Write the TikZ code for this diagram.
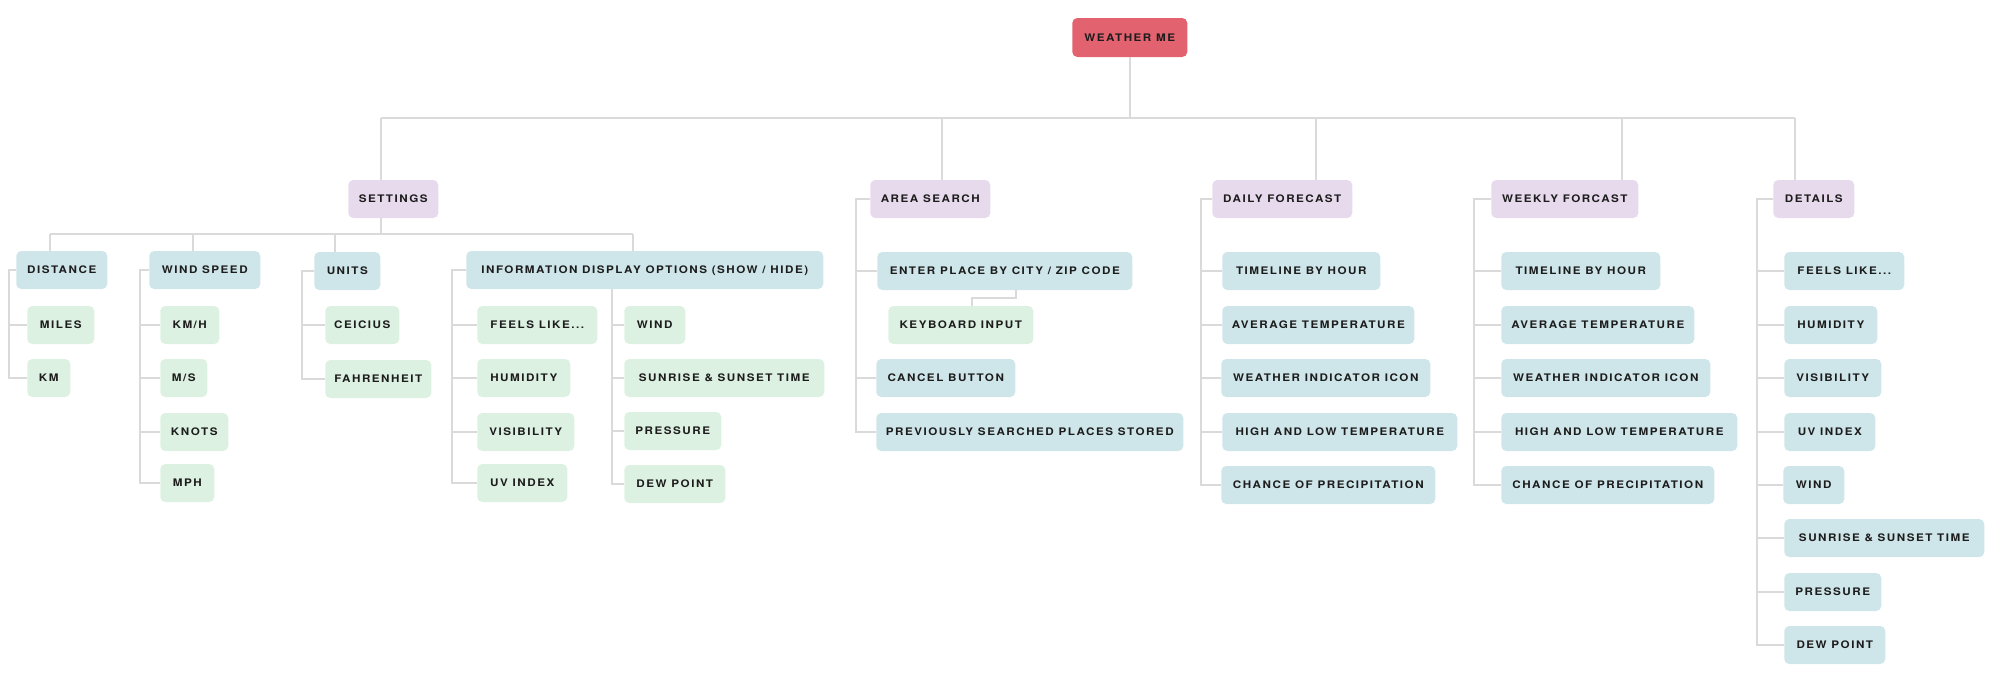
\documentclass[tikz,border=0pt]{standalone}
\usepackage{fontspec}
\setmainfont{TeX Gyre Heros}[FakeStretch=1.12, LetterSpace=14.5]
\usetikzlibrary{calc}

\definecolor{rootred}{HTML}{E2636F}
\definecolor{catlilac}{HTML}{E8DAED}
\definecolor{itemblue}{HTML}{CEE5E9}
\definecolor{leafgreen}{HTML}{DCF1E1}
\definecolor{linkgray}{HTML}{DADADA}
\definecolor{inkdark}{HTML}{1C1C1C}

\tikzset{
  box/.style={anchor=west, rounded corners=3.75pt, minimum height=28.5pt,
    inner sep=0pt, text=inkdark, text height=5.6pt, text depth=0pt,
    font=\bfseries\fontsize{7.8}{9}\selectfont},
  bw/.style={minimum width={#1*0.75pt}},
  rootbox/.style={box, fill=rootred, minimum height=29.25pt},
  catbox/.style={box, fill=catlilac},
  itembox/.style={box, fill=itemblue},
  leafbox/.style={box, fill=leafgreen},
  link/.style={draw=linkgray, line width=1.1pt},
}

\begin{document}
\begin{tikzpicture}[x=0.75pt, y=-0.75pt]
\useasboundingbox (0,0) rectangle (2000,696);

% root and first level
\node[rootbox, bw=115] (root) at (1072,37.5) {WEATHER ME};
\node[catbox, bw=90]  (settings) at (348,199)  {SETTINGS};
\node[catbox, bw=120] (area)     at (870,199)  {AREA SEARCH};
\node[catbox, bw=140] (daily)    at (1212,199) {DAILY FORECAST};
\node[catbox, bw=147] (weekly)   at (1491,199) {WEEKLY FORCAST};
\node[catbox, bw=81]  (details)  at (1773,199) {DETAILS};

% settings branch
\node[itembox, bw=91]  (dist)  at (16,270)  {DISTANCE};
\node[leafbox, bw=67]  (miles) at (27,325)  {MILES};
\node[leafbox, bw=43]  (km)    at (27,378)  {KM};

\node[itembox, bw=111] (wspd)  at (149,270) {WIND SPEED};
\node[leafbox, bw=59]  (kmh)   at (160,325) {KM/H};
\node[leafbox, bw=47]  (ms)    at (160,378) {M/S};
\node[leafbox, bw=68]  (knots) at (160,432) {KNOTS};
\node[leafbox, bw=54]  (mph)   at (160,483) {MPH};

\node[itembox, bw=66]  (units) at (314,271) {UNITS};
\node[leafbox, bw=74]  (cel)   at (325,325) {CEICIUS};
\node[leafbox, bw=106] (fahr)  at (325,379) {FAHRENHEIT};

\node[itembox, bw=357] (info)    at (466,270) {INFORMATION DISPLAY OPTIONS (SHOW / HIDE)};
\node[leafbox, bw=120] (ifeels)  at (477,325) {FEELS LIKE...};
\node[leafbox, bw=93]  (ihum)    at (477,378) {HUMIDITY};
\node[leafbox, bw=97]  (ivis)    at (477,432) {VISIBILITY};
\node[leafbox, bw=90]  (iuv)     at (477,483) {UV INDEX};
\node[leafbox, bw=61]  (iwind)   at (624,325) {WIND};
\node[leafbox, bw=200] (isun)    at (624,378) {SUNRISE \& SUNSET TIME};
\node[leafbox, bw=97]  (ipres)   at (624,431) {PRESSURE};
\node[leafbox, bw=101] (idew)    at (624,484) {DEW POINT};

% area search branch
\node[itembox, bw=255] (enter)  at (877,271) {ENTER PLACE BY CITY / ZIP CODE};
\node[leafbox, bw=145] (keyb)   at (888,325) {KEYBOARD INPUT};
\node[itembox, bw=139] (cancel) at (876,378) {CANCEL BUTTON};
\node[itembox, bw=307] (prev)   at (876,432) {PREVIOUSLY SEARCHED PLACES STORED};

% daily forecast branch
\node[itembox, bw=158] (d1) at (1222,271) {TIMELINE BY HOUR};
\node[itembox, bw=192] (d2) at (1222,325) {AVERAGE TEMPERATURE};
\node[itembox, bw=209] (d3) at (1221,378) {WEATHER INDICATOR ICON};
\node[itembox, bw=235] (d4) at (1222,432) {HIGH AND LOW TEMPERATURE};
\node[itembox, bw=214] (d5) at (1221,485) {CHANCE OF PRECIPITATION};

% weekly forecast branch
\node[itembox, bw=159] (w1) at (1501,271) {TIMELINE BY HOUR};
\node[itembox, bw=193] (w2) at (1501,325) {AVERAGE TEMPERATURE};
\node[itembox, bw=209] (w3) at (1501,378) {WEATHER INDICATOR ICON};
\node[itembox, bw=236] (w4) at (1501,432) {HIGH AND LOW TEMPERATURE};
\node[itembox, bw=213] (w5) at (1501,485) {CHANCE OF PRECIPITATION};

% details branch
\node[itembox, bw=120] (t1) at (1784,271) {FEELS LIKE...};
\node[itembox, bw=93]  (t2) at (1784,325) {HUMIDITY};
\node[itembox, bw=97]  (t3) at (1784,378) {VISIBILITY};
\node[itembox, bw=91]  (t4) at (1784,432) {UV INDEX};
\node[itembox, bw=61]  (t5) at (1783,485) {WIND};
\node[itembox, bw=200] (t6) at (1784,538) {SUNRISE \& SUNSET TIME};
\node[itembox, bw=97]  (t7) at (1784,592) {PRESSURE};
\node[itembox, bw=101] (t8) at (1784,645) {DEW POINT};

% bus and spine positions
\coordinate (busS) at (381,118);
\coordinate (busA) at (942,118);
\coordinate (busD) at (1316,118);
\coordinate (busW) at (1622,118);
\coordinate (busT) at (1795,118);
\coordinate (sbus) at (381,234);
\coordinate (sbDist) at (50,234);
\coordinate (sbWind) at (193,234);
\coordinate (sbUnits) at (335,234);
\coordinate (sbInfo) at (633,234);
\coordinate (spDist) at (9,0);
\coordinate (spWind) at (140,0);
\coordinate (spUnits) at (302,0);
\coordinate (spInfoL) at (452,0);
\coordinate (spInfoR) at (612,0);
\coordinate (spArea) at (856,0);
\coordinate (spDaily) at (1201,0);
\coordinate (spWeekly) at (1474,0);
\coordinate (spDetails) at (1757,0);
\coordinate (kbA) at (1016,298);
\coordinate (kbB) at (972,298);

% root to first level
\draw[link] (root.south) -- (root.south |- busS);
\draw[link] (busS) -- (busT);
\foreach \b/\n in {busS/settings, busA/area, busD/daily, busW/weekly, busT/details}
  \draw[link] (\b) -- (\b |- \n.north);

% settings to its groups
\draw[link] (settings.south -| sbus) -- (sbus);
\draw[link] (sbDist) -- (sbInfo);
\foreach \b/\n in {sbDist/dist, sbWind/wspd, sbUnits/units, sbInfo/info}
  \draw[link] (\b) -- (\b |- \n.north);

% side spines from parents to children
\foreach \p/\s/\kids in {
    dist/spDist/{miles,km},
    wspd/spWind/{kmh,ms,knots,mph},
    units/spUnits/{cel,fahr},
    info/spInfoL/{ifeels,ihum,ivis,iuv},
    area/spArea/{enter,cancel,prev},
    daily/spDaily/{d1,d2,d3,d4,d5},
    weekly/spWeekly/{w1,w2,w3,w4,w5},
    details/spDetails/{t1,t2,t3,t4,t5,t6,t7,t8}}
  \foreach \c in \kids
    \draw[link] (\p.west) -- (\p.west -| \s) |- (\c.west);

% second column under the display options
\foreach \c in {iwind,isun,ipres,idew}
  \draw[link] (info.south -| spInfoR) |- (\c.west);

% keyboard input under the place entry
\draw[link] (enter.south -| kbA) -- (kbA) -- (kbB) -- (kbB |- keyb.north);
\end{tikzpicture}
\end{document}
